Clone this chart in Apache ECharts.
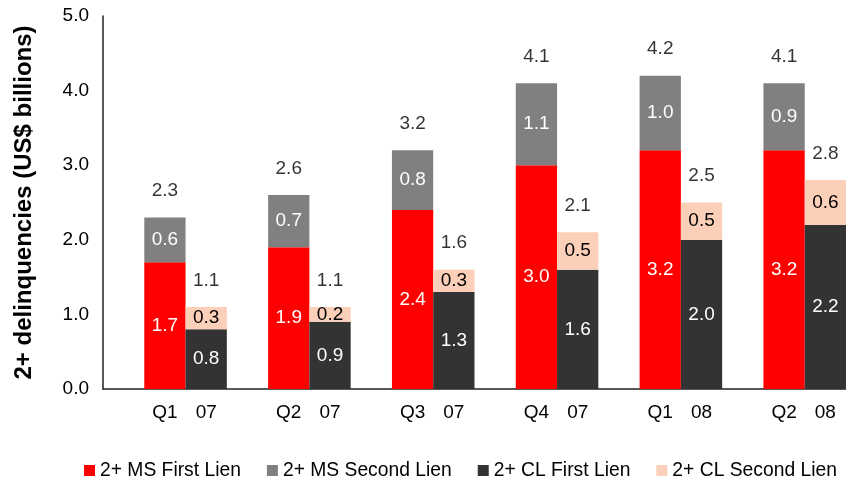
<!DOCTYPE html>
<html>
<head>
<meta charset="utf-8">
<style>
  html, body { margin: 0; padding: 0; background: #fff; }
  #chart { width: 846px; height: 482px; }
</style>
<script src="https://cdn.jsdelivr.net/npm/echarts@6/dist/echarts.min.js"></script>
</head>
<body>
<div id="chart"></div>
<script>
// Quarter and year labels for each pair of stacks
const quarters = ['Q1', 'Q2', 'Q3', 'Q4', 'Q1', 'Q2'];
const years = ['07', '07', '07', '07', '08', '08'];

// Delinquencies, US$ billions
const msFirstLien = [1.7, 1.9, 2.4, 3.0, 3.2, 3.2];
const msSecondLien = [0.6, 0.7, 0.8, 1.1, 1.0, 0.9];
const clFirstLien = [0.8, 0.9, 1.3, 1.6, 2.0, 2.2];
const clSecondLien = [0.3, 0.2, 0.3, 0.5, 0.5, 0.6];

// Y-axis ticks
const yTicks = [0, 1, 2, 3, 4, 5];

const seriesNames = ['2+ MS First Lien', '2+ MS Second Lien', '2+ CL First Lien', '2+ CL Second Lien'];
const colors = ['#FF0000', '#808080', '#333333', '#FBCFB8'];

// Each quarter occupies three slots: spacer, MS stack, CL stack
const slots = [];
quarters.forEach((q, i) => { slots.push('', q, years[i]); });

function place(values, offset) {
  const out = slots.map(() => '-');
  values.forEach((v, i) => { out[i * 3 + offset] = v; });
  return out;
}

const msTotals = msFirstLien.map((v, i) => +(v + msSecondLien[i]).toFixed(1));
const clTotals = clFirstLien.map((v, i) => +(v + clSecondLien[i]).toFixed(1));
const totalsData = slots.map(() => '-');
msTotals.forEach((v, i) => { totalsData[i * 3 + 1] = v; });
clTotals.forEach((v, i) => { totalsData[i * 3 + 2] = v; });

const FONT = "'Liberation Sans', Arial, sans-serif";

function barSeries(idx, values, offset, labelColor) {
  return {
    name: seriesNames[idx],
    type: 'bar',
    stack: 'all',
    barCategoryGap: '0%',
    data: place(values, offset),
    itemStyle: { color: colors[idx] },
    label: {
      show: true,
      position: 'inside',
      color: labelColor,
      fontFamily: FONT,
      fontSize: 19,
      formatter: p => Number(p.value).toFixed(1)
    },
    emphasis: { disabled: true }
  };
}

const chart = echarts.init(document.getElementById('chart'), null, { renderer: 'canvas' });
chart.setOption({
  animation: false,
  textStyle: { fontFamily: FONT },
  grid: { left: 103, right: -6, top: 16, bottom: 93, containLabel: false },
  legend: {
    data: seriesNames,
    left: 84,
    top: 461,
    width: 900,
    padding: 0,
    icon: 'rect',
    itemWidth: 11,
    itemHeight: 11,
    itemGap: 26,
    textStyle: { fontFamily: FONT, fontSize: 19.3, color: '#000' }
  },
  xAxis: {
    type: 'category',
    data: slots,
    axisLine: { show: true, lineStyle: { color: '#222', width: 1.5 } },
    axisTick: { show: false },
    axisLabel: {
      interval: 0,
      margin: 14,
      color: '#000',
      fontFamily: FONT,
      fontSize: 19,
      lineHeight: 19
    },
    splitLine: { show: false }
  },
  yAxis: {
    type: 'value',
    min: yTicks[0],
    max: yTicks[yTicks.length - 1],
    interval: 1,
    name: '2+ delinquencies (US$ billions)',
    nameLocation: 'middle',
    nameGap: 67,
    nameTextStyle: { fontFamily: FONT, fontSize: 24, fontWeight: 'bold', color: '#000' },
    axisLine: { show: true, lineStyle: { color: '#222', width: 1.5 } },
    axisTick: { show: false },
    splitLine: { show: false },
    axisLabel: {
      margin: 14,
      color: '#000',
      fontFamily: FONT,
      fontSize: 19,
      formatter: v => v.toFixed(1)
    }
  },
  series: [
    barSeries(0, msFirstLien, 1, '#fff'),
    barSeries(1, msSecondLien, 1, '#fff'),
    barSeries(2, clFirstLien, 2, '#fff'),
    barSeries(3, clSecondLien, 2, '#000'),
    {
      name: 'Total',
      type: 'scatter',
      data: totalsData,
      symbolSize: 0,
      silent: true,
      label: {
        show: true,
        position: 'top',
        distance: 17,
        color: '#000',
        fontFamily: FONT,
        fontSize: 19,
        formatter: p => Number(p.value).toFixed(1)
      }
    }
  ]
});
</script>
</body>
</html>
